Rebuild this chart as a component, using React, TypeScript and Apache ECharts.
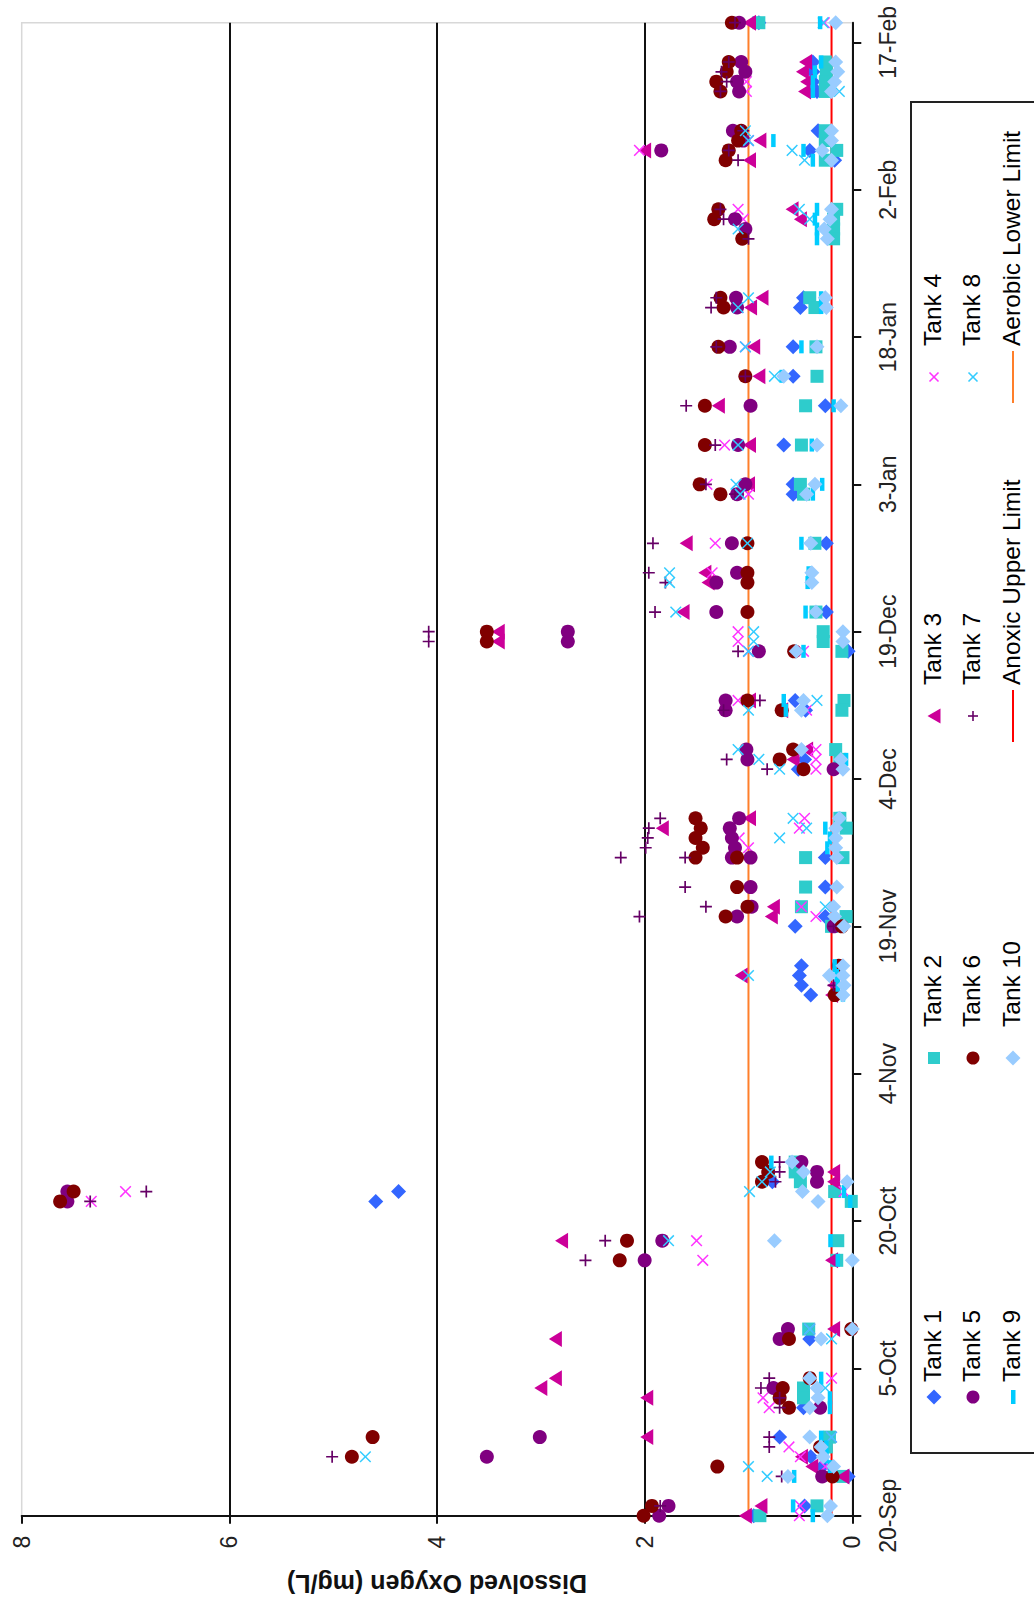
import React, { useEffect, useRef } from "react";
import * as echarts from "echarts";

const tickDays = [0, 15, 30, 45, 60, 75, 90, 105, 120, 135, 150];
const tickLabels = ["20-Sep", "5-Oct", "20-Oct", "4-Nov", "19-Nov", "4-Dec", "19-Dec", "3-Jan", "18-Jan", "2-Feb", "17-Feb"];
const anoxicUpperLimit = 0.2;
const aerobicLowerLimit = 1;
const lastDay = 152;

// pairs are [days since 20-Sep, dissolved oxygen mg/L]
const tank1 = [[152,.9],[148,.38],[147,.38],[146,.38],[145,.34],[141,.33],[139,.41],[138,.17],[124,.47],[123,.5],[119,.57],[116,.57],[113,.26],[109,.66],[105,.57],[104,.57],[99,.25],[92,.25],[88,.04],[83,.55],[82,.45],[77,.46],[76,.52],[67,.26],[64,.26],[61,.26],[60,.55],[56,.49],[55,.51],[54,.49],[53,.4],[34,.77],[33,4.37],[32,4.59],[18,.41],[11,.47],[8,.7],[6,.4],[5,.29],[4,.04],[1,.46],[0,.95]];
const tank2 = [[152,.9],[148,.26],[147,.25],[146,.26],[145,.26],[141,.26],[140,.26],[139,.15],[138,.26],[133,.15],[132,.18],[131,.18],[130,.18],[124,.41],[123,.36],[119,.35],[116,.34],[113,.45],[109,.49],[105,.5],[104,.47],[99,.36],[92,.35],[90,.28],[89,.28],[88,.1],[83,.08],[82,.1],[78,.16],[77,.12],[71,.12],[70,.06],[67,.09],[67,.45],[64,.45],[62,.49],[61,.06],[60,.2],[36,.55],[35,.55],[34,.5],[33,.17],[32,.01],[28,.14],[26,.15],[19,.42],[13,.47],[12,.47],[8,.22],[7,.25],[4,.09],[1,.34],[0,.89]];
const tank3 = [[152,.99],[148,.45],[147,.48],[146,.44],[145,.46],[140,.89],[139,2],[138,.99],[133,.58],[132,.5],[124,.87],[123,.98],[119,.95],[116,.9],[113,1.29],[109,.99],[105,1],[99,1.6],[96,1.42],[95,1.39],[92,1.63],[90,3.41],[89,3.41],[83,.99],[82,.68],[78,.44],[77,.57],[71,.99],[70,1.83],[62,.76],[61,.78],[55,1.07],[54,.18],[53,.2],[35,.18],[34,.18],[28,2.8],[26,.2],[19,.18],[18,2.86],[14,2.86],[13,3],[12,1.98],[8,1.98],[6,.49],[5,.39],[4,.09],[1,.88],[0,1.03]];
const tank4 = [[152,.27],[146,1.02],[145,1.02],[140,1],[139,2.05],[133,1.1],[132,1.05],[123,1.1],[119,1.03],[109,1.23],[105,1.4],[104,1],[99,1.32],[96,1.35],[90,1.1],[89,1.1],[88,1],[88,.47],[83,1.1],[82,.44],[78,.35],[77,.35],[76,.35],[71,.46],[70,.51],[69,1.09],[68,1],[62,.49],[61,.35],[33,7],[32,7.33],[33,.08],[28,1.5],[26,1.44],[19,.41],[14,.2],[12,.86],[11,.8],[8,.2],[7,.61],[6,.5],[5,.26],[1,.5],[0,.51]];
const tank5 = [[152,1.09],[148,1.07],[147,1.03],[146,1.11],[145,1.09],[141,1.15],[140,1.05],[139,1.84],[132,1.13],[131,1.03],[124,1.12],[123,1.11],[119,1.18],[113,.98],[109,1.1],[105,1.03],[104,1.11],[99,1.16],[96,1.11],[95,1.31],[92,1.31],[90,2.74],[89,2.74],[88,.9],[83,1.22],[82,1.22],[78,1.02],[77,1.01],[76,.18],[71,1.09],[70,1.18],[69,1.16],[68,1.13],[67,1.16],[67,.98],[64,.98],[62,.97],[61,1.11],[60,.18],[36,.49],[35,.34],[34,.34],[33,7.56],[32,7.56],[28,1.83],[26,2],[19,.62],[18,.7],[13,.76],[11,.31],[8,3.01],[6,3.52],[4,.29],[1,1.77],[0,1.86]];
const tank6 = [[152,1.16],[148,1.19],[147,1.21],[146,1.31],[145,1.27],[141,1.07],[140,1.1],[139,1.19],[138,1.22],[133,1.29],[132,1.33],[130,1.06],[124,1.27],[123,1.24],[119,1.29],[116,1.03],[113,1.42],[109,1.42],[105,1.47],[104,1.27],[99,1.01],[96,1.01],[95,1.01],[92,1.01],[90,3.52],[89,3.52],[88,.56],[83,1.01],[82,.68],[78,.57],[77,.7],[76,.47],[71,1.51],[70,1.46],[69,1.51],[68,1.44],[67,1.51],[67,1.11],[64,1.11],[62,1.01],[61,1.22],[60,.1],[56,.13],[53,.17],[36,.87],[35,.81],[34,.87],[33,7.5],[32,7.63],[28,2.17],[26,2.24],[19,.01],[18,.61],[14,.41],[13,.67],[12,.7],[11,.61],[8,4.62],[7,.31],[6,4.82],[5,1.3],[4,.19],[1,1.93],[0,2.01]];
const tank7 = [[152,1.13],[148,1.19],[147,1.26],[146,1.21],[145,1.27],[141,1.05],[139,1.19],[138,1.1],[133,1.27],[132,1.24],[130,1],[124,1.31],[123,1.36],[119,1.31],[116,1.03],[113,1.6],[109,1.32],[105,1.41],[104,1.13],[99,1.92],[96,1.96],[95,1.8],[92,1.9],[90,4.08],[89,4.08],[88,1.1],[83,.89],[82,1.24],[77,1.21],[76,.82],[71,1.85],[70,1.96],[69,1.97],[68,1.99],[67,2.23],[67,1.61],[64,1.61],[62,1.41],[61,2.05],[60,.18],[54,.18],[36,.7],[35,.7],[34,.74],[33,6.8],[32,7.34],[28,2.38],[26,2.57],[14,.8],[13,.88],[12,.7],[11,.7],[8,.8],[7,.8],[6,5.01],[4,.68],[1,1.85]];
const tank8 = [[152,.28],[145,.125],[141,1.03],[140,1],[139,.58],[138,.46],[133,.51],[132,.41],[131,1.1],[124,1],[123,1.1],[119,1.03],[116,.75],[109,1.1],[105,1.12],[104,1.08],[99,1.01],[96,1.76],[95,1.76],[92,1.7],[90,.95],[89,.95],[88,1],[83,.34],[82,1],[78,1.1],[77,.9],[76,.7],[71,.57],[70,.44],[69,.7],[62,.26],[55,1],[35,.79],[34,.87],[33,.99],[28,1.77],[19,.41],[18,.2],[13,.26],[8,.2],[6,4.69],[5,1],[4,.82]];
const tank9 = [[152,.31],[148,.3],[147,.36],[146,.38],[145,.38],[140,.76],[139,.47],[138,.38],[133,.34],[132,.36],[131,.34],[130,.34],[124,.3],[123,.3],[119,.49],[116,.68],[113,.18],[109,.39],[105,.29],[104,.38],[99,.49],[96,.42],[95,.43],[92,.45],[88,.47],[83,.66],[82,.64],[77,.06],[71,.13],[70,.26],[69,.215],[68,.24],[56,.17],[55,.15],[54,.14],[53,.09],[36,.78],[33,.08],[32,.02],[28,.21],[26,.14],[14,.3],[12,.215],[11,.215],[8,.3],[7,.25],[6,.25],[5,.215],[4,.56],[1,.57],[0,.38]];
const tank10 = [[152,.16],[148,.16],[147,.14],[146,.17],[145,.2],[141,.2],[140,.2],[139,.29],[138,.2],[133,.2],[132,.215],[131,.27],[130,.24],[124,.26],[123,.25],[119,.34],[116,.66],[113,.11],[109,.34],[105,.36],[104,.44],[99,.4],[96,.39],[95,.39],[92,.35],[90,.09],[89,.09],[88,.54],[83,.47],[82,.49],[78,.49],[77,.11],[76,.09],[71,.125],[70,.16],[69,.16],[68,.16],[67,.15],[64,.15],[62,.18],[61,.17],[60,.08],[56,.09],[55,.22],[55,.09],[54,.08],[53,.09],[36,.58],[35,.47],[34,.05],[33,.48],[32,.33],[28,.75],[26,0],[19,0],[18,.3],[14,.41],[13,.34],[12,.33],[11,.41],[8,.41],[7,.3],[6,.28],[5,.18],[4,.62],[1,.21],[0,.24]];

const FONT = '"Liberation Sans", Arial, sans-serif';
const PLUS = "path://M4.3 0H5.7V4.3H10V5.7H5.7V10H4.3V5.7H0V4.3H4.3Z";
const CROSS = "path://M4.5 0H5.5V4.5H10V5.5H5.5V10H4.5V5.5H0V4.5H4.5Z";

const tanks: any[] = [
  { name: "Tank 1", data: tank1, color: "#3366ff", symbol: "diamond", size: 15, rotate: 0, kind: "diamond" },
  { name: "Tank 2", data: tank2, color: "#2ecccc", symbol: "rect", size: 13, rotate: 0, kind: "square" },
  { name: "Tank 3", data: tank3, color: "#cc0099", symbol: "triangle", size: [16, 13], rotate: 90, kind: "triangle" },
  { name: "Tank 4", data: tank4, color: "#ff33ff", symbol: CROSS, size: 15, rotate: 45, kind: "cross" },
  { name: "Tank 5", data: tank5, color: "#800080", symbol: "circle", size: 14, rotate: 0, kind: "circle" },
  { name: "Tank 6", data: tank6, color: "#800000", symbol: "circle", size: 14, rotate: 0, kind: "circle" },
  { name: "Tank 7", data: tank7, color: "#660066", symbol: PLUS, size: 12, rotate: 0, kind: "plus" },
  { name: "Tank 8", data: tank8, color: "#33ccff", symbol: CROSS, size: 15, rotate: 45, kind: "cross" },
  { name: "Tank 9", data: tank9, color: "#00ccff", symbol: "rect", size: [4.5, 13], rotate: 0, kind: "bar" },
  { name: "Tank 10", data: tank10, color: "#99ccff", symbol: "diamond", size: 15, rotate: 0, kind: "diamond" },
];

const limits = [
  { name: "Anoxic Upper Limit", value: anoxicUpperLimit, color: "#ff0000" },
  { name: "Aerobic Lower Limit", value: aerobicLowerLimit, color: "#ff7f2a" },
];

const legendRowX = [932, 971, 1011];
const legendMarkX = [934, 973, 1013];
const legendColMarkY = [1397, 1058, 716, 377];
const legendColTextY = [1382, 1027, 685, 346];

function legendMark(kind: string, color: string, x: number, y: number): any[] {
  const style = { fill: color };
  const lineStyle = { stroke: color, lineWidth: 1.6 };
  if (kind === "diamond") return [{ type: "polygon", shape: { points: [[x - 7.5, y], [x, y - 7.5], [x + 7.5, y], [x, y + 7.5]] }, style }];
  if (kind === "square") return [{ type: "rect", shape: { x: x - 6, y: y - 6, width: 12, height: 12 }, style }];
  if (kind === "triangle") return [{ type: "polygon", shape: { points: [[x - 6.5, y], [x + 6.5, y - 7.5], [x + 6.5, y + 7.5]] }, style }];
  if (kind === "circle") return [{ type: "circle", shape: { cx: x, cy: y, r: 6.5 }, style }];
  if (kind === "bar") return [{ type: "rect", shape: { x: x - 2, y: y - 7, width: 4.5, height: 14 }, style }];
  if (kind === "plus")
    return [
      { type: "line", shape: { x1: x - 5, y1: y, x2: x + 5, y2: y }, style: lineStyle },
      { type: "line", shape: { x1: x, y1: y - 5, x2: x, y2: y + 5 }, style: lineStyle },
    ];
  return [
    { type: "line", shape: { x1: x - 4.5, y1: y - 4.5, x2: x + 4.5, y2: y + 4.5 }, style: lineStyle },
    { type: "line", shape: { x1: x - 4.5, y1: y + 4.5, x2: x + 4.5, y2: y - 4.5 }, style: lineStyle },
  ];
}

function legendText(name: string, x: number, y: number) {
  return {
    type: "text",
    x,
    y,
    rotation: Math.PI / 2,
    style: { text: name, fill: "#000", font: `24.5px ${FONT}`, textAlign: "left", textVerticalAlign: "middle", verticalAlign: "middle" },
  };
}

function buildLegend(): any[] {
  const children: any[] = [
    { type: "rect", shape: { x: 911, y: 102, width: 140, height: 1351 }, style: { fill: "#fff", stroke: "#222", lineWidth: 2 } },
  ];
  tanks.forEach((t, i) => {
    const col = i % 4;
    const row = Math.floor(i / 4);
    children.push(...legendMark(t.kind, t.color, legendMarkX[row], legendColMarkY[col]));
    children.push(legendText(t.name, legendRowX[row], legendColTextY[col]));
  });
  limits.forEach((l, i) => {
    const col = i + 2;
    const my = legendColMarkY[col];
    children.push({ type: "line", shape: { x1: 1013, y1: my - 26, x2: 1013, y2: my + 26 }, style: { stroke: l.color, lineWidth: 2 } });
    children.push(legendText(l.name, legendRowX[2], legendColTextY[col]));
  });
  return children;
}

export default function App() {
  const ref = useRef<HTMLDivElement>(null);
  useEffect(() => {
    const chart = echarts.init(ref.current!, undefined, { renderer: "svg" });
    chart.setOption({
      animation: false,
      backgroundColor: "#fff",
      grid: { left: 21.7, right: 1034 - 852.3, top: 22.7, bottom: 1606 - 1515.7, show: true, borderColor: "#d8d8d8", borderWidth: 1.5, containLabel: false },
      xAxis: {
        type: "value",
        inverse: true,
        min: 0,
        max: 8,
        interval: 2,
        position: "bottom",
        name: "Dissolved Oxygen (mg/L)",
        nameLocation: "middle",
        nameRotate: 180,
        nameGap: 56,
        nameTextStyle: { fontFamily: FONT, fontSize: 25, fontWeight: "bold", color: "#111" },
        axisLine: { show: true, onZero: false, lineStyle: { color: "#111", width: 2 } },
        axisTick: { show: true, length: 8, lineStyle: { color: "#111", width: 2 } },
        axisLabel: { rotate: 90, margin: 20, fontFamily: FONT, fontSize: 23, color: "#222", showMinLabel: true, showMaxLabel: true },
        splitLine: { show: true, showMinLine: false, showMaxLine: false, lineStyle: { color: "#111", width: 2 } },
      },
      yAxis: {
        type: "value",
        min: 0,
        max: lastDay,
        interval: 15,
        position: "right",
        axisLine: { show: true, onZero: false, lineStyle: { color: "#111", width: 2 } },
        axisTick: { show: true, length: 9, lineStyle: { color: "#111", width: 2 }, customValues: tickDays },
        axisLabel: {
          rotate: 90,
          margin: 24,
          fontFamily: FONT,
          fontSize: 23,
          color: "#222",
          customValues: tickDays,
          formatter: (v: number) => tickLabels[tickDays.indexOf(v)] ?? "",
          hideOverlap: false,
        },
        splitLine: { show: false },
      },
      series: [
        ...limits.map((l) => ({
          name: l.name,
          type: "line",
          z: 1,
          silent: true,
          showSymbol: false,
          symbol: "none",
          lineStyle: { color: l.color, width: 2 },
          data: [[l.value, 0], [l.value, lastDay]],
        })),
        ...tanks.map((t, i) => ({
          name: t.name,
          type: "scatter",
          z: 2 + i,
          symbol: t.symbol,
          symbolSize: t.size,
          symbolRotate: t.rotate,
          clip: false,
          itemStyle: { color: t.color, opacity: 1 },
          data: t.data.map((d: number[]) => [d[1], d[0]]),
        })),
      ],
      graphic: { elements: [{ type: "group", children: buildLegend() }] },
    });
    return () => chart.dispose();
  }, []);
  return <div ref={ref} style={{ position: "absolute", left: 0, top: 0, width: 1034, height: 1606 }} />;
}
